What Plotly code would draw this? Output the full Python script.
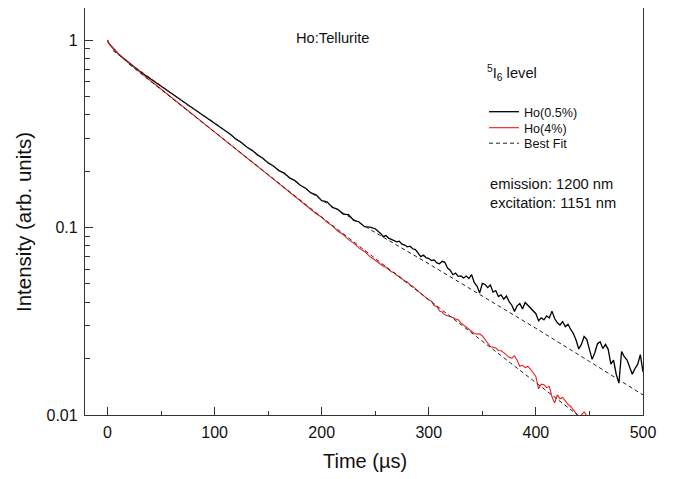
import plotly.graph_objects as go


# Ho(0.5%) decay, time in µs (finer sampling where the trace gets noisy)
t_black = [
    0, 1, 2.5, 5, 7.5, 10,
    15, 20, 25, 30, 35, 40, 45, 50,
    55, 60, 65, 70, 75, 80, 85, 90, 95, 100,
    105, 110, 115, 120, 125, 130, 135, 140, 145, 150,
    155, 160, 165, 170, 175, 180, 185, 190, 195, 200,
    205, 210, 215, 220, 225, 230, 235, 240, 245, 250,
    252.5, 255, 257.5, 260, 262.5, 265, 267.5, 270, 272.5, 275,
    277.5, 280, 282.5, 285, 287.5, 290, 292.5, 295, 297.5, 300,
    302.5, 305, 307.5, 310, 312.5, 315, 317.5, 320, 322.5, 325,
    327.5, 330, 332.5, 335, 337.5, 340, 342.5, 345, 347.5, 350,
    352.5, 355, 357.5, 360, 362.5, 365, 367.5, 370, 372.5, 375,
    377.5, 380, 382.5, 385, 387.5, 390, 392.5, 395, 397.5, 400,
    402.5, 405, 407.5, 410, 412.5, 415, 417.5, 420, 422.5, 425,
    427.5, 430, 432.5, 435, 437.5, 440, 442.5, 445, 447.5, 450,
    452.5, 455, 457.5, 460, 462.5, 465, 467.5, 470, 472.5, 475,
    477.5, 480, 482.5, 485, 487.5, 490, 492.5, 495, 497.5, 500,
]
i_black = [
    1.000, 0.965, 0.940, 0.905, 0.872, 0.845,
    0.798, 0.755, 0.716, 0.682, 0.650, 0.621, 0.595, 0.568,
    0.543, 0.517, 0.495, 0.471, 0.452, 0.430, 0.412, 0.393, 0.378, 0.360,
    0.345, 0.326, 0.313, 0.296, 0.284, 0.269, 0.258, 0.244, 0.234, 0.221,
    0.213, 0.201, 0.195, 0.184, 0.178, 0.168, 0.162, 0.153, 0.149, 0.139,
    0.137, 0.128, 0.125, 0.118, 0.117, 0.109, 0.107, 0.101, 0.1005, 0.0985,
    0.0962, 0.0930, 0.0893, 0.0905, 0.0878, 0.0866, 0.0852, 0.0838, 0.0845, 0.0815,
    0.0806, 0.0789, 0.0795, 0.0770, 0.0762, 0.0735, 0.0700, 0.0712, 0.0690, 0.0683,
    0.0667, 0.0672, 0.0648, 0.0641, 0.0660, 0.0652, 0.0608, 0.0592, 0.0560, 0.0571,
    0.0549, 0.0552, 0.0538, 0.0551, 0.0535, 0.0560, 0.0508, 0.0487, 0.0448, 0.0503,
    0.0497, 0.0478, 0.0494, 0.0452, 0.0461, 0.0428, 0.0437, 0.0415, 0.0431, 0.0402,
    0.0385, 0.0357, 0.0382, 0.0393, 0.0368, 0.0398, 0.0385, 0.0372, 0.0356, 0.0347,
    0.0318, 0.0330, 0.0322, 0.0338, 0.0329, 0.0358, 0.0327, 0.0310, 0.0302, 0.0315,
    0.0296, 0.0305, 0.0286, 0.0272, 0.0251, 0.0225, 0.0238, 0.0262, 0.0253, 0.0221,
    0.0198, 0.0215, 0.0240, 0.0246, 0.0226, 0.0238, 0.0224, 0.0187, 0.0196, 0.0165,
    0.0148, 0.0218, 0.0205, 0.0197, 0.0182, 0.0165, 0.0177, 0.0186, 0.0210, 0.0170,
]

# Ho(4%) decay
t_red = [
    0, 1, 2.5, 5, 7.5, 10,
    15, 20, 25, 30, 35, 40, 45, 50,
    55, 60, 65, 70, 75, 80, 85, 90, 95, 100,
    105, 110, 115, 120, 125, 130, 135, 140, 145, 150,
    155, 160, 165, 170, 175, 180, 185, 190, 195, 200,
    205, 210, 215, 220, 225, 230, 235, 240, 245, 250,
    252.5, 255, 257.5, 260, 262.5, 265, 267.5, 270, 272.5, 275,
    277.5, 280, 282.5, 285, 287.5, 290, 292.5, 295, 297.5, 300,
    302.5, 305, 307.5, 310, 312.5, 315, 317.5, 320, 322.5, 325,
    327.5, 330, 332.5, 335, 337.5, 340, 342.5, 345, 347.5, 350,
    352.5, 355, 357.5, 360, 362.5, 365, 367.5, 370, 372.5, 375,
    377.5, 380, 382.5, 385, 387.5, 390, 392.5, 395, 397.5, 400,
    402.5, 405, 407.5, 410, 412.5, 415, 417.5, 420, 422.5, 425,
    427.5, 430, 432.5, 435, 437.5, 440, 442.5, 445, 447.5,
]
i_red = [
    1.000, 0.965, 0.940, 0.905, 0.872, 0.845,
    0.797, 0.754, 0.711, 0.675, 0.640, 0.607, 0.577, 0.547,
    0.519, 0.492, 0.467, 0.443, 0.420, 0.399, 0.378, 0.359, 0.340, 0.323,
    0.306, 0.291, 0.276, 0.262, 0.248, 0.236, 0.223, 0.212, 0.201, 0.191,
    0.181, 0.172, 0.163, 0.155, 0.147, 0.139, 0.132, 0.1255, 0.1185, 0.1135,
    0.1065, 0.1020, 0.0958, 0.0918, 0.0862, 0.0826, 0.0776, 0.0745, 0.0699, 0.0669,
    0.0652, 0.0640, 0.0621, 0.0613, 0.0598, 0.0581, 0.0575, 0.0556, 0.0548, 0.0531,
    0.0518, 0.0512, 0.0494, 0.0485, 0.0472, 0.0460, 0.0446, 0.0436, 0.0425, 0.0410,
    0.0405, 0.0384, 0.0379, 0.0358, 0.0354, 0.0342, 0.0338, 0.0336, 0.0331, 0.0325,
    0.0322, 0.0310, 0.0302, 0.0294, 0.0287, 0.0281, 0.0272, 0.0270, 0.0271, 0.0264,
    0.0251, 0.0242, 0.0232, 0.0230, 0.0228, 0.0221, 0.0220, 0.0215, 0.0208, 0.0203,
    0.0201, 0.0207, 0.0196, 0.0182, 0.0184, 0.0179, 0.0182, 0.0176, 0.0168, 0.0160,
    0.0138, 0.0146, 0.0145, 0.0140, 0.0142, 0.0125, 0.0116, 0.0128, 0.0122, 0.0124,
    0.0118, 0.0114, 0.0111, 0.0106, 0.0101, 0.0098, 0.0100, 0.0104, 0.0099,
]

# best fit curves
t_fit_black = [5, 25, 50, 75, 100, 150, 200, 250, 300, 350, 400, 450, 500]
i_fit_black = [0.880, 0.720, 0.570, 0.450, 0.362, 0.222, 0.140, 0.094, 0.064, 0.0432, 0.0290, 0.0193, 0.0128]
t_fit_red = [20, 100, 200, 300, 400, 440]
i_fit_red = [0.745, 0.323, 0.1135, 0.0412, 0.0150, 0.0099]

y_ticks = [0.01, 0.1, 1]
y_ticktext = ["0.01", "0.1", "1"]
y_minor = [0.02, 0.03, 0.04, 0.05, 0.06, 0.07, 0.08, 0.09,
           0.2, 0.3, 0.4, 0.5, 0.6, 0.7, 0.8, 0.9]

FONT = "Liberation Sans, Arial, sans-serif"
AXIS_COLOR = "#333333"
DASH = "4px,3px"

# the page puts the figure 8px in from the top-left corner of the window,
# so the sizes below are the window positions minus that offset
PAGE_OFFSET = 8
FIG_W = 674 - PAGE_OFFSET * 2
FIG_H = 479 - PAGE_OFFSET


def px_x(px):
    # window column -> paper x (plot area spans 85..643)
    return (px - 85) / 558


def px_y(py):
    # window row -> paper y (plot area spans 8..415)
    return (415 - py) / 407


def show():
    assert len(t_black) == len(i_black) and len(t_red) == len(i_red)

    fig = go.Figure()
    fig.add_trace(go.Scatter(x=t_black, y=i_black, mode="lines", name="Ho(0.5%)",
                             legend="legend",
                             line=dict(color="black", width=1.3)))
    fig.add_trace(go.Scatter(x=t_red, y=i_red, mode="lines", name="Ho(4%)",
                             legend="legend2",
                             line=dict(color="#ee1c1c", width=1.1)))
    fig.add_trace(go.Scatter(x=t_fit_black, y=i_fit_black, mode="lines", name="Best Fit",
                             legend="legend3",
                             line=dict(color="#222222", width=1, dash=DASH)))
    fig.add_trace(go.Scatter(x=t_fit_red, y=i_fit_red, mode="lines", name="Best Fit",
                             showlegend=False,
                             line=dict(color="#222222", width=1, dash=DASH)))

    # one small legend per row so the rows sit as close as in the original
    legend_style = dict(xanchor="left", yanchor="middle", bgcolor="rgba(0,0,0,0)",
                        font=dict(size=12.6))
    fig.update_layout(
        width=FIG_W, height=FIG_H,
        margin=dict(l=85 - PAGE_OFFSET, r=FIG_W - (643 - PAGE_OFFSET),
                    t=0, b=FIG_H - (415 - PAGE_OFFSET)),
        paper_bgcolor="white", plot_bgcolor="white",
        font=dict(family=FONT, color="#111111"),
        legend=dict(x=px_x(484), y=px_y(112), **legend_style),
        legend2=dict(x=px_x(484), y=px_y(128), **legend_style),
        legend3=dict(x=px_x(484), y=px_y(143.5), **legend_style),
    )
    fig.update_xaxes(range=[-21, 500], showgrid=False, zeroline=False,
                     showline=True, mirror=True, linecolor=AXIS_COLOR, linewidth=1.3,
                     ticks="inside", ticklen=8, tickwidth=1.2, tickcolor=AXIS_COLOR,
                     tickvals=[0, 100, 200, 300, 400, 500],
                     minor=dict(tickvals=[50, 150, 250, 350, 450], ticks="inside",
                                ticklen=4, tickwidth=1.2, tickcolor=AXIS_COLOR),
                     tickfont=dict(size=16), ticklabelstandoff=3)
    fig.update_yaxes(type="log", range=[-2, 0.1707], showgrid=False, zeroline=False,
                     showline=True, mirror=True, linecolor=AXIS_COLOR, linewidth=1.3,
                     ticks="inside", ticklen=8, tickwidth=1.2, tickcolor=AXIS_COLOR,
                     tickvals=y_ticks, ticktext=y_ticktext,
                     minor=dict(tickvals=y_minor, ticks="inside",
                                ticklen=5, tickwidth=1.2, tickcolor=AXIS_COLOR),
                     tickfont=dict(size=16), ticklabelstandoff=3)

    notes = [
        ("Ho:Tellurite", 332.5, 37.5, "center"),
        ("<sup>5</sup>I<sub>6</sub> level", 485, 73, "left"),
        ("emission: 1200 nm", 488, 184.5, "left"),
        ("excitation: 1151 nm", 488, 203, "left"),
    ]
    for text, x, y, anchor in notes:
        fig.add_annotation(text=text, x=px_x(x), y=px_y(y), xref="paper", yref="paper",
                           xanchor=anchor, yanchor="middle", showarrow=False,
                           font=dict(size=14.7))

    # axis titles
    fig.add_annotation(text="Time (µs)", x=px_x(365), y=px_y(461), xref="paper", yref="paper",
                       xanchor="center", yanchor="middle", showarrow=False,
                       font=dict(size=20))
    fig.add_annotation(text="Intensity (arb. units)", x=px_x(23), y=px_y(222),
                       xref="paper", yref="paper", xanchor="center", yanchor="middle",
                       textangle=-90, showarrow=False, font=dict(size=20.5))

    fig.write_html("out.html")


def main():
    print("Build decay plot")
    show()


if __name__ == "__main__":
    main()
